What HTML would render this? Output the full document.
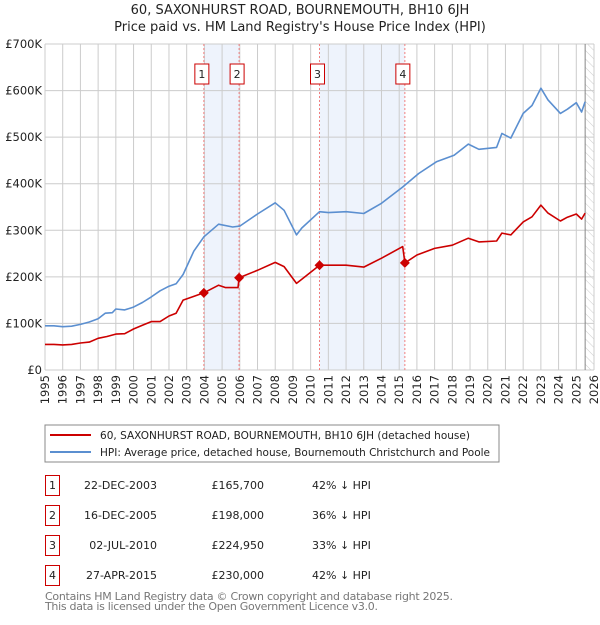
<!DOCTYPE html>
<html><head><meta charset="utf-8"><style>
body{margin:0;background:#fff;font-family:"Liberation Sans","DejaVu Sans",sans-serif;}
svg text{font-family:"DejaVu Sans","Liberation Sans",sans-serif;}
</style></head><body>
<svg id="chart" width="600" height="620" viewBox="0 0 600 620" xmlns="http://www.w3.org/2000/svg">
<defs><pattern id="hatch" width="6" height="6" patternUnits="userSpaceOnUse" patternTransform="rotate(-45)"><line x1="0" y1="0" x2="0" y2="6" stroke="#ccc" stroke-width="1"/></pattern></defs>
<text x="300" y="14" text-anchor="middle" font-size="13" fill="#222">60, SAXONHURST ROAD, BOURNEMOUTH, BH10 6JH</text>
<text x="300" y="31" text-anchor="middle" font-size="13" fill="#222">Price paid vs. HM Land Registry's House Price Index (HPI)</text>
<g id="plot"></g>
<g>
<rect x="45" y="425" width="454" height="37" fill="#fff" stroke="#888"/>
<line x1="50" y1="435" x2="91" y2="435" stroke="#cc0000" stroke-width="2"/>
<text x="100" y="439" font-size="10.5" fill="#222" textLength="370">60, SAXONHURST ROAD, BOURNEMOUTH, BH10 6JH (detached house)</text>
<line x1="50" y1="452" x2="91" y2="452" stroke="#5b8fd0" stroke-width="2"/>
<text x="100" y="456" font-size="10.5" fill="#222" textLength="390">HPI: Average price, detached house, Bournemouth Christchurch and Poole</text>
</g>
<g id="table"></g>
<text x="45" y="600" font-size="11" fill="#777" textLength="408">Contains HM Land Registry data © Crown copyright and database right 2025.</text>
<text x="45" y="610" font-size="11" fill="#777" textLength="333">This data is licensed under the Open Government Licence v3.0.</text>
</svg>
<script>
const hpiYears=[1995,1995.5,1996,1996.5,1997,1997.5,1998,1998.4,1998.8,1999,1999.5,2000,2000.5,2001,2001.5,2002,2002.4,2002.8,2003.4,2003.97,2004.8,2005.6,2006,2007,2008,2008.5,2009.2,2009.5,2010.5,2011,2012,2013,2014,2015.2,2016.1,2017.1,2018.1,2018.9,2019.5,2020.5,2020.8,2021.3,2022,2022.5,2023,2023.4,2024.1,2024.5,2025,2025.3,2025.5];
const hpiValues=[95,95,93,94,98,103,110,122,123,131,129,135,145,157,170,180,185,205,255,286,313,307,309,335,359,343,290,305,340,338,340,336,358,393,422,447,461,485,474,478,508,498,551,568,605,580,551,560,574,554,576];
const ppYears=[1995,1995.5,1996,1996.5,1997,1997.5,1998,1998.5,1999,1999.5,2000,2000.5,2001,2001.5,2002,2002.4,2002.8,2003.4,2003.97,2004.8,2005.2,2005.9,2005.96,2007,2008,2008.5,2009.2,2009.5,2010.5,2011,2012,2013,2014,2015.2,2015.32,2016,2017,2018,2018.9,2019.5,2020.5,2020.8,2021.3,2022,2022.5,2023,2023.4,2024.1,2024.5,2025,2025.3,2025.5];
const ppValues=[55,55,54,55,58,60,68,72,77,78,88,96,104,104,116,122,150,158,165.7,182,177,177,198,214,231,222,186,195,225,225,225,221,240,265,230,247,261,268,283,275,277,294,290,318,329,354,337,320,328,335,324,337];
const saleYears=[2003.97,2005.96,2010.5,2015.32];
const saleValues=[165.7,198,224.95,230];
const saleLabels=["1","2","3","4"];
const saleDates=["22-DEC-2003","16-DEC-2005","02-JUL-2010","27-APR-2015"];
const salePrices=["£165,700","£198,000","£224,950","£230,000"];
const salePct=["42% ↓ HPI","36% ↓ HPI","33% ↓ HPI","42% ↓ HPI"];
const yTicks=[0,100,200,300,400,500,600,700];
const yTickLabels=["£0","£100K","£200K","£300K","£400K","£500K","£600K","£700K"];
const xStart=1995,xEnd=2026;

const L=45,R=594,T=44,B=370;
const xs=y=>L+(y-xStart)/(xEnd-xStart)*(R-L);
const ys=v=>B-v/700*(B-T);
const NS="http://www.w3.org/2000/svg";
function mk(tag,attrs,parent){const e=document.createElementNS(NS,tag);for(const k in attrs)e.setAttribute(k,attrs[k]);parent.appendChild(e);return e;}
const plot=document.getElementById('plot');
for(let i=0;i<4;i+=2){
 const r=mk('rect',{x:xs(saleYears[i]),y:T,width:xs(saleYears[i+1])-xs(saleYears[i]),height:B-T,fill:'#eef3fc'},plot);
 
 
}
const h=mk('rect',{x:xs(2025.5),y:T,width:R-xs(2025.5),height:B-T,fill:'url(#hatch)'},plot);


for(let yr=xStart;yr<=xEnd;yr++){
 const g=mk('line',{x1:xs(yr),x2:xs(yr),y1:T,y2:B,stroke:'#ccc','stroke-width':1},plot);
 
 
 const t=mk('text',{transform:`translate(${xs(yr)+4},${B+5}) rotate(-90)`,'text-anchor':'end','font-size':11.5,fill:'#222'},plot);
 t.textContent=yr;
 
 
}
yTicks.forEach((v,i)=>{
 const g=mk('line',{x1:L,x2:R,y1:ys(v),y2:ys(v),stroke:'#ccc','stroke-width':1},plot);
 
 
 const t=mk('text',{x:L-3,y:ys(v)+4,'text-anchor':'end','font-size':11.5,fill:'#222'},plot);
 t.textContent=yTickLabels[i];
 
 
});
mk('line',{x1:xs(2025.5),x2:xs(2025.5),y1:T,y2:B,stroke:'#888','stroke-width':1},plot);
saleYears.forEach((y,i)=>{
 const l=mk('line',{x1:xs(y),x2:xs(y),y1:T,y2:B,stroke:'#f08080','stroke-width':1,'stroke-dasharray':'2,2'},plot);
 
 
 const bx=xs(y)-(i%2==0?7:-3)-(i%2==0?0:10);
 const b=mk('rect',{x:bx-2,y:64,width:14,height:20,fill:'#fff',stroke:'#cc0000','stroke-width':1},plot);
 
 
 const t=mk('text',{x:bx+5,y:78,'text-anchor':'middle','font-size':11,fill:'#222'},plot);
 t.textContent=saleLabels[i];
});
function line(xa,va,color,name){
 const d=xa.map((y,i)=>(i?'L':'M')+xs(y).toFixed(1)+','+ys(va[i]).toFixed(1)).join('');
 const p=mk('path',{d,fill:'none',stroke:color,'stroke-width':1.6,'stroke-linejoin':'round'},plot);
 
 
}
line(hpiYears,hpiValues,'#5b8fd0','hpi-line');
line(ppYears,ppValues,'#cc0000','price-paid-line');
saleYears.forEach((y,i)=>{
 const cx=xs(y),cy=ys(saleValues[i]);
 const p=mk('path',{d:`M${cx},${cy-5}L${cx+5},${cy}L${cx},${cy+5}L${cx-5},${cy}Z`,fill:'#cc0000'},plot);
 
 
});
const tb=document.getElementById('table');
saleLabels.forEach((lab,i)=>{
 const y=475+i*30;
 const b=mk('rect',{x:45.5,y:y+0.5,width:14,height:20,fill:'#fff',stroke:'#cc0000'},tb);
 
 
 const t0=mk('text',{x:52.5,y:y+14,'text-anchor':'middle','font-size':11,fill:'#222'},tb);t0.textContent=lab;
 const t1=mk('text',{x:157,y:y+14,'text-anchor':'end','font-size':11,fill:'#222'},tb);t1.textContent=saleDates[i];
 
 
 const t2=mk('text',{x:264,y:y+14,'text-anchor':'end','font-size':11,fill:'#222'},tb);t2.textContent=salePrices[i];
 
 
 const t3=mk('text',{x:312,y:y+14,'font-size':11,fill:'#222'},tb);t3.textContent=salePct[i];
 
 
});
</script>
</body></html>
